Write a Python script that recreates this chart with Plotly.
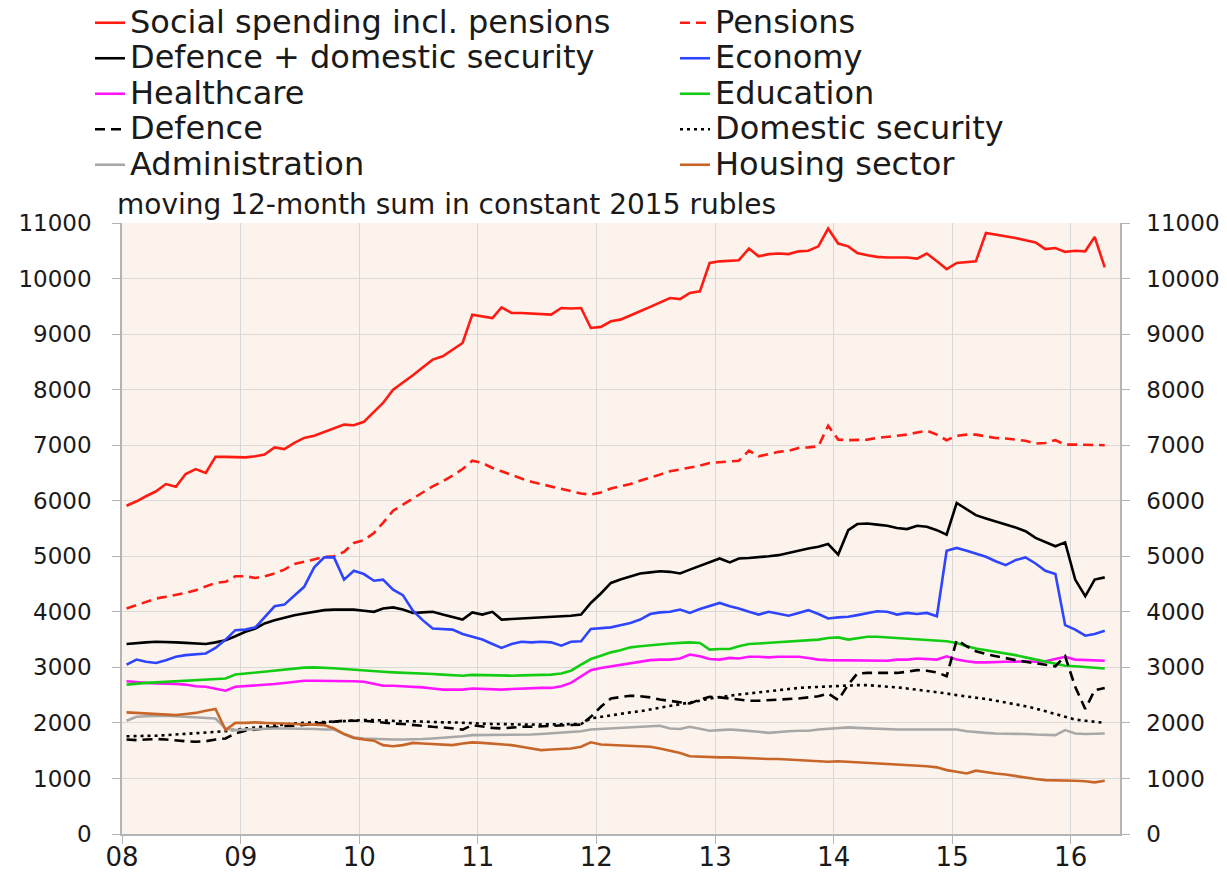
import pandas as pd
import plotly.graph_objects as go

# monthly observations, Jan 2008 .. Apr 2016 (plotted mid-month)
months = pd.date_range("2008-01-01", periods=100, freq="MS") + pd.Timedelta(days=14)

social = [5910, 5990, 6080, 6170, 6300, 6250, 6480, 6570, 6500, 6790, 6790, 6790,
          6780, 6800, 6830, 6960, 6930, 7040, 7130, 7170, 7240, 7300, 7370, 7360,
          7420, 7600, 7760, 8000, 8120, 8260, 8400, 8540, 8600, 8720, 8840, 9350,
          9320, 9290, 9480, 9380, 9380, 9370, 9350, 9350, 9470, 9460, 9470, 9110,
          9130, 9230, 9260, 9330, 9410, 9490, 9570, 9650, 9630, 9740, 9770, 10280,
          10310, 10320, 10330, 10540, 10400, 10440, 10450, 10440, 10490, 10500, 10580, 10900,
          10630, 10580, 10460, 10420, 10390, 10380, 10380, 10380, 10360, 10450, 10310, 10170,
          10280, 10300, 10310, 10820, 10790, 10770, 10730, 10690, 10650, 10530, 10550, 10480,
          10500, 10490, 10750, 10200]

pensions = [4060, 4120, 4180, 4240, 4270, 4300, 4340, 4390, 4460, 4520, 4540, 4640,
            4640, 4610, 4640, 4690, 4760, 4860, 4900, 4950, 4990, 5000, 5080, 5240,
            5290, 5420, 5600, 5820, 5930, 6050, 6150, 6260, 6350, 6450, 6570, 6720,
            6680, 6590, 6530, 6460, 6400, 6340, 6300, 6260, 6220, 6170, 6130, 6110,
            6150, 6220, 6260, 6300, 6360, 6410, 6470, 6530, 6560, 6600, 6630, 6680,
            6690, 6710, 6720, 6900, 6800, 6840, 6880, 6900, 6950, 6960, 6980, 7350,
            7100, 7090, 7090, 7100, 7130, 7150, 7170, 7190, 7230, 7260, 7190, 7090,
            7170, 7190, 7190, 7160, 7130, 7120, 7100, 7080, 7030, 7040, 7090, 7010,
            7010, 7010, 7010, 7000]

defence_security = [3420, 3440, 3450, 3460, 3460, 3450, 3440, 3430, 3420, 3450, 3490, 3560,
                    3640, 3700, 3790, 3850, 3900, 3940, 3970, 4000, 4030, 4040, 4040, 4040,
                    4020, 4000, 4060, 4080, 4040, 3980, 3990, 4000, 3950, 3900, 3860, 3990,
                    3950, 4000, 3860, 3870, 3880, 3880, 3890, 3900, 3910, 3930, 3950, 4160,
                    4330, 4520, 4580, 4640, 4690, 4710, 4730, 4720, 4690, 4760, 4830, 4900,
                    4960, 4890, 4960, 4970, 4980, 5000, 5020, 5060, 5110, 5140, 5170, 5220,
                    5030, 5470, 5580, 5590, 5570, 5550, 5510, 5490, 5550, 5530, 5470, 5390,
                    5960, 5850, 5740, 5680, 5620, 5570, 5520, 5450, 5330, 5250, 5180, 5250,
                    4580, 4280, 4580, 4620]

economy = [3050, 3140, 3100, 3080, 3130, 3190, 3220, 3240, 3250, 3350, 3500, 3670,
           3680, 3720, 3900, 4100, 4130, 4300, 4450, 4800, 4980, 4980, 4580, 4740,
           4680, 4560, 4580, 4400, 4300, 4020, 3850, 3700, 3690, 3680, 3600, 3550,
           3500, 3420, 3350, 3420, 3460, 3450, 3460, 3450, 3390, 3460, 3470, 3690,
           3710, 3720, 3760, 3800, 3860, 3960, 3990, 4000, 4040, 3980, 4050, 4100,
           4160, 4100, 4060, 4000, 3950, 4000, 3960, 3930, 3980, 4030, 3960, 3880,
           3900, 3910, 3940, 3970, 4010, 4000, 3950, 3980, 3960, 3980, 3920, 5100,
           5150, 5100, 5050, 4990, 4910, 4840, 4930, 4980, 4870, 4740, 4680, 3760,
           3680, 3570, 3600, 3660]

healthcare = [2750, 2730, 2720, 2710, 2710, 2700, 2690, 2660, 2650, 2610, 2580, 2650,
              2660, 2670, 2690, 2700, 2720, 2740, 2760, 2760, 2760, 2750, 2750, 2750,
              2740, 2700, 2670, 2670, 2660, 2655, 2640, 2620, 2600, 2600, 2600, 2620,
              2610, 2610, 2600, 2610, 2620, 2620, 2630, 2630, 2660, 2720, 2830, 2950,
              2990, 3020, 3040, 3080, 3110, 3130, 3140, 3140, 3160, 3230, 3200, 3150,
              3140, 3170, 3160, 3190, 3190, 3180, 3190, 3190, 3190, 3170, 3140, 3130,
              3130, 3120, 3130, 3120, 3120, 3120, 3140, 3140, 3160, 3150, 3140, 3200,
              3140, 3110, 3090, 3090, 3100, 3100, 3100, 3110, 3100, 3110, 3150, 3190,
              3140, 3130, 3130, 3120]

education = [2690, 2710, 2720, 2730, 2740, 2750, 2760, 2770, 2780, 2790, 2800, 2870,
             2890, 2900, 2920, 2940, 2960, 2980, 2995, 3000, 2995, 2985, 2970, 2955,
             2940, 2930, 2920, 2910, 2905, 2895, 2890, 2880, 2870, 2860, 2850, 2865,
             2860, 2850, 2850, 2850, 2855, 2860, 2865, 2870, 2890, 2940, 3050, 3150,
             3210, 3270, 3310, 3360, 3380, 3400, 3420, 3430, 3440, 3450, 3440, 3320,
             3330, 3330, 3380, 3420, 3430, 3440, 3450, 3460, 3470, 3490, 3500, 3530,
             3540, 3500, 3530, 3550, 3550, 3540, 3520, 3510, 3500, 3490, 3480, 3470,
             3440, 3380, 3340, 3310, 3290, 3260, 3220, 3180, 3140, 3100, 3070, 3030,
             3020, 3010, 3000, 2980]

defence = [1700, 1690, 1700, 1710, 1700, 1680, 1670, 1660, 1670, 1700, 1720, 1810,
           1860, 1880, 1900, 1920, 1940, 1950, 1970, 1990, 2010, 2030, 2040, 2040,
           2040, 2020, 2000, 1990, 1980, 1960, 1950, 1930, 1920, 1900, 1880, 1960,
           1930, 1910, 1900, 1920, 1930, 1930, 1940, 1950, 1960, 1960, 1970, 2110,
           2290, 2440, 2470, 2490, 2480, 2460, 2420, 2400, 2370, 2350, 2420, 2470,
           2460, 2440, 2420, 2400, 2400, 2410, 2420, 2420, 2440, 2460, 2480, 2530,
           2410, 2690, 2890, 2900, 2900, 2910, 2900, 2920, 2950, 2940, 2910, 2840,
           3490, 3380, 3290, 3240, 3200, 3170, 3130, 3100, 3070, 3040, 3020, 3200,
           2650, 2250, 2590, 2630]

domestic_security = [1760, 1760, 1770, 1770, 1780, 1790, 1800, 1810, 1820, 1830, 1850, 1880,
                     1900, 1920, 1940, 1960, 1980, 1990, 2000, 2010, 2020, 2030, 2040, 2050,
                     2050, 2050, 2040, 2040, 2030, 2030, 2020, 2020, 2010, 2010, 2000, 1990,
                     1990, 1980, 1980, 1970, 1970, 1970, 1970, 1970, 1970, 1970, 1980, 2080,
                     2110, 2140, 2170, 2190, 2210, 2240, 2270, 2300, 2330, 2360, 2400, 2440,
                     2470, 2490, 2510, 2530, 2550, 2580, 2600, 2610, 2630, 2640, 2650, 2660,
                     2670, 2680, 2680, 2680, 2670, 2660, 2640, 2620, 2600, 2580, 2550, 2530,
                     2500, 2480, 2460, 2430, 2400, 2370, 2340, 2300, 2260, 2210, 2160, 2100,
                     2060, 2040, 2020, 2000]

administration = [2040, 2110, 2120, 2130, 2130, 2120, 2110, 2100, 2090, 2080, 1900, 1870,
                  1880, 1890, 1890, 1900, 1900, 1900, 1900, 1890, 1880, 1880, 1800, 1740,
                  1720, 1710, 1700, 1700, 1700, 1700, 1710, 1720, 1730, 1740, 1760, 1780,
                  1780, 1780, 1780, 1780, 1790, 1790, 1800, 1810, 1820, 1840, 1850, 1880,
                  1890, 1900, 1910, 1920, 1930, 1940, 1950, 1900, 1890, 1930, 1900, 1860,
                  1870, 1880, 1870, 1860, 1840, 1820, 1840, 1850, 1860, 1860, 1880, 1890,
                  1900, 1920, 1910, 1900, 1890, 1880, 1880, 1880, 1880, 1880, 1890, 1890,
                  1880, 1850, 1830, 1820, 1810, 1810, 1800, 1800, 1790, 1780, 1780, 1870,
                  1810, 1800, 1810, 1810]

housing = [2190, 2180, 2170, 2160, 2150, 2140, 2160, 2180, 2220, 2250, 1870, 2000,
           2000, 2010, 2000, 2000, 1990, 1980, 1980, 1970, 1960, 1900, 1800, 1730,
           1700, 1680, 1600, 1580, 1600, 1640, 1630, 1620, 1610, 1600, 1630, 1650,
           1640, 1630, 1620, 1600, 1570, 1540, 1510, 1520, 1530, 1540, 1570, 1650,
           1610, 1600, 1600, 1590, 1580, 1570, 1540, 1500, 1460, 1400, 1390, 1390,
           1380, 1380, 1370, 1360, 1360, 1350, 1350, 1340, 1330, 1320, 1310, 1300,
           1310, 1300, 1290, 1280, 1270, 1270, 1260, 1250, 1240, 1220, 1200, 1150,
           1120, 1090, 1140, 1110, 1090, 1070, 1040, 1010, 990, 970, 970, 970,
           960, 950, 930, 960]

y_ticks = list(range(0, 11001, 1000))
y_ticktext = [str(v) for v in y_ticks]

FONT = "DejaVu Sans"
LEG_PX = 32

series = [
    ("Social spending incl. pensions", social, "#ff1a12", "solid", "legend"),
    ("Pensions", pensions, "#ff1a12", "10px,6px", "legend2"),
    ("Defence + domestic security", defence_security, "#000000", "solid", "legend"),
    ("Economy", economy, "#2f44ff", "solid", "legend2"),
    ("Healthcare", healthcare, "#ff14ff", "solid", "legend"),
    ("Education", education, "#14cc14", "solid", "legend2"),
    ("Defence", defence, "#000000", "10px,6px", "legend"),
    ("Domestic security", domestic_security, "#000000", "3px,4px", "legend2"),
    ("Administration", administration, "#a8a8a8", "solid", "legend"),
    ("Housing sector", housing, "#c8662a", "solid", "legend2"),
]

fig = go.Figure()
for name, vals, color, dash, leg in series:
    fig.add_trace(go.Scatter(
        x=months, y=vals, mode="lines",
        name=f"<span style='font-size:{LEG_PX}px'>{name}</span>",
        line=dict(color=color, width=2.6, dash=dash),
        legend=leg,
    ))

# invisible trace to anchor the right-hand axis
fig.add_trace(go.Scatter(x=months[:2], y=social[:2], yaxis="y2", mode="lines",
                         line=dict(width=0, color="rgba(0,0,0,0)"),
                         showlegend=False, hoverinfo="skip"))

axis_gray = "#b4b4b4"
grid_gray = "#d9d9d9"

fig.update_layout(
    width=1227, height=873,
    margin=dict(l=122, r=107, t=223, b=39, autoexpand=False),
    paper_bgcolor="white",
    plot_bgcolor="#fcf4ec",
    font=dict(family=FONT, color="#1a1a1a"),
    xaxis=dict(
        type="date",
        range=["2008-01-01", "2016-06-01"],
        tick0="2008-01-01", dtick="M12", tickformat="%y",
        showgrid=True, gridcolor=grid_gray, gridwidth=1,
        showline=True, linecolor=axis_gray, linewidth=1.5,
        ticks="outside", ticklen=8, tickcolor=axis_gray,
        tickfont=dict(family=FONT, size=26, color="#1a1a1a"),
        ticklabelstandoff=-9,
        zeroline=False, automargin=False,
    ),
    yaxis=dict(
        range=[0, 11000], tickmode="array", tickvals=y_ticks, ticktext=y_ticktext,
        showgrid=True, gridcolor=grid_gray, gridwidth=1,
        showline=True, linecolor=axis_gray, linewidth=1.5,
        ticks="outside", ticklen=8, tickcolor=axis_gray,
        tickfont=dict(family=FONT, size=23, color="#1a1a1a"),
        ticklabelstandoff=16,
        zeroline=False, automargin=False,
    ),
    yaxis2=dict(
        range=[0, 11000], tickmode="array", tickvals=y_ticks, ticktext=y_ticktext,
        overlaying="y", side="right",
        showgrid=False,
        showline=True, linecolor=axis_gray, linewidth=1.5,
        ticks="outside", ticklen=8, tickcolor=axis_gray,
        tickfont=dict(family=FONT, size=23, color="#1a1a1a"),
        ticklabelstandoff=12,
        zeroline=False, automargin=False,
    ),
    legend=dict(
        xref="container", yref="container", x=90 / 1227, y=1,
        xanchor="left", yanchor="top", orientation="v",
        font=dict(family=FONT, size=25, color="#1a1a1a"),
        bgcolor="rgba(0,0,0,0)", tracegroupgap=0,
    ),
    legend2=dict(
        xref="container", yref="container", x=675 / 1227, y=1,
        xanchor="left", yanchor="top", orientation="v",
        font=dict(family=FONT, size=25, color="#1a1a1a"),
        bgcolor="rgba(0,0,0,0)", tracegroupgap=0,
    ),
    annotations=[dict(
        text="moving 12-month sum in constant 2015 rubles",
        xref="paper", yref="paper", x=-0.007, y=1.0,
        xanchor="left", yanchor="bottom", showarrow=False,
        font=dict(family=FONT, size=28, color="#1a1a1a"),
    )],
    showlegend=True,
)

fig.write_html("out.html", config={"displayModeBar": False},
               post_script="document.body.style.margin='0';")
